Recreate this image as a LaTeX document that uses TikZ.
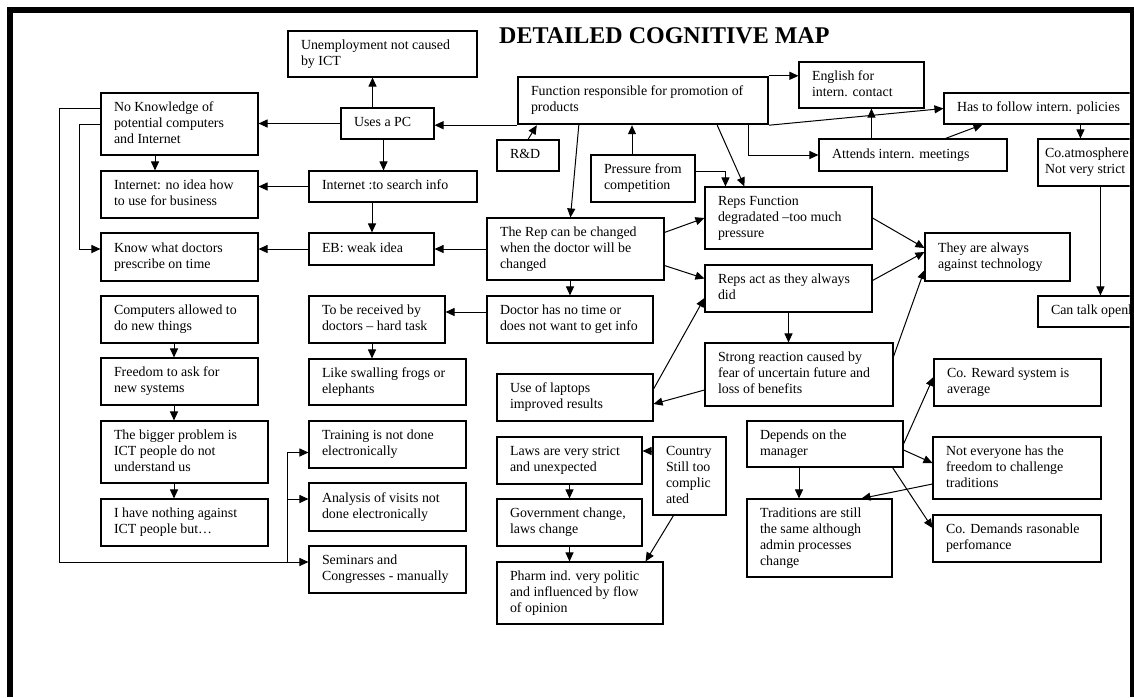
\documentclass[tikz,border=0pt]{standalone}
\usepackage{fontspec}
\setmainfont{Liberation Serif}
\usetikzlibrary{arrows.meta}

% \mapbox[style]{name}{x1}{y1}{x2}{y2}{line\\line}
% box with corners (x1,y1) and (x2,y2); text left aligned with an inset of \mbinset
\newcommand{\mbinset}{13}
\newcommand{\mapbox}[7][]{%
  \pgfmathsetmacro\mbw{#5-#3}%
  \pgfmathsetmacro\mbh{#6-#4}%
  \pgfmathsetmacro\mbt{#5-#3-2*\mbinset}%
  \node[box,minimum width=\mbw pt,minimum height=\mbh pt,#1] (#2)
    at ({(#3+#5)/2},{(#4+#6)/2})
    {\makebox[\mbt pt][l]{\begin{tabular}{@{}l@{}}#7\end{tabular}}};}

\begin{document}
\begin{tikzpicture}[x=1pt,y=-1pt,
  box/.style={draw,rectangle,line width=1.1pt,inner sep=0pt,
    font=\fontsize{13.9}{16}\selectfont},
  keybox/.style={line width=2.4pt},
  link/.style={line width=1pt,-{Triangle[length=9pt,width=8pt]}}]

\useasboundingbox (0,0) rectangle (1134,697);

\begin{scope}
\clip (13,13) rectangle (1129.5,697);

\node[anchor=base west,inner sep=0pt,font=\fontsize{24}{28}\selectfont\bfseries]
  (title) at (499,43) {DETAILED COGNITIVE MAP};

% concepts
\mapbox{unemp}{288}{31}{477}{77}{Unemployment not caused\\by ICT}
\mapbox[keybox]{func}{518}{77}{768}{124}{Function responsible for promotion of\\products}
\mapbox{english}{799}{62}{924}{108}{English for\\intern. contact}
\mapbox{hasto}{944}{93}{1160}{124}{Has to follow intern. policies}
\mapbox{noknow}{101}{93}{258}{155}{No Knowledge of\\potential computers\\and Internet}
\mapbox{usespc}{341}{108}{434}{139}{Uses a PC}
\mapbox{rnd}{497}{140}{559}{171}{R\&D}
\mapbox{pressure}{591}{155}{695}{202}{Pressure from\\competition}
\mapbox{attends}{819}{139}{1007}{171}{Attends intern. meetings}
{\renewcommand{\mbinset}{7}%
\mapbox{coatm}{1038}{139}{1160}{186}{Co.atmosphere\\Not very strict}}
\mapbox{inetnoidea}{101}{171}{258}{218}{Internet: no idea how\\to use for business}
\mapbox{inetsearch}{309}{171}{477}{202}{Internet :to search info}
\mapbox{repsfunc}{705}{187}{872}{249}{Reps Function\\degradated --too much\\pressure}
\mapbox{knowdoc}{101}{233}{258}{281}{Know what doctors\\prescribe on time}
\mapbox{eb}{309}{233}{434}{265}{EB: weak idea}
\mapbox{therep}{487}{218}{664}{280}{The Rep can be changed\\when the doctor will be\\changed}
\mapbox{they}{925}{233}{1070}{281}{They are always\\against technology}
\mapbox{cantalk}{1038}{296}{1160}{327}{Can talk openly}
\mapbox{repsact}{705}{265}{872}{312}{Reps act as they always\\did}
\mapbox{computers}{101}{296}{258}{343}{Computers allowed to\\do new things}
\mapbox{received}{309}{296}{445}{343}{To be received by\\doctors -- hard task}
\mapbox{doctor}{487}{296}{653}{343}{Doctor has no time or\\does not want to get info}
\mapbox{strong}{705}{343}{893}{406}{Strong reaction caused by\\fear of uncertain future and\\loss of benefits}
\mapbox{freedom}{101}{358}{258}{405}{Freedom to ask for\\new systems}
\mapbox{swalling}{309}{359}{466}{405}{Like swalling frogs or\\elephants}
\mapbox{laptops}{497}{374}{653}{421}{Use of laptops\\improved results}
\mapbox{reward}{934}{359}{1101}{406}{Co. Reward system is\\average}
\mapbox{bigger}{101}{421}{268}{483}{The bigger problem is\\ICT people do not\\understand us}
\mapbox{training}{309}{421}{466}{468}{Training is not done\\electronically}
\mapbox{depends}{747}{421}{903}{467}{Depends on the\\manager}
\mapbox{laws}{497}{437}{642}{484}{Laws are very strict\\and unexpected}
\mapbox{country}{653}{437}{726}{515}{Country\\Still too\\complic\\ated}
\mapbox{noteveryone}{933}{437}{1101}{499}{Not everyone has the\\freedom to challenge\\traditions}
\mapbox{analysis}{309}{483}{466}{531}{Analysis of visits not\\done electronically}
\mapbox{nothing}{101}{499}{268}{546}{I have nothing against\\ICT people but\ldots}
\mapbox{government}{497}{499}{642}{546}{Government change,\\laws change}
\mapbox{traditions}{747}{499}{892}{577}{Traditions are still\\the same although\\admin processes\\change}
\mapbox{demands}{933}{515}{1101}{562}{Co. Demands rasonable\\perfomance}
\mapbox{seminars}{309}{546}{466}{593}{Seminars and\\Congresses - manually}
\mapbox{pharm}{497}{562}{663}{624}{Pharm ind. very politic\\and influenced by flow\\of opinion}

% links: left column
\draw[link] ([xshift=-15]usespc.north) -- ([xshift=-15]usespc.north |- unemp.south);
\draw[link] (usespc.west) -- (usespc.west -| noknow.east);
\draw[link] ([xshift=-4]usespc.south) -- ([xshift=-4]usespc.south |- inetsearch.north);
\draw[link] ([xshift=-24.5]noknow.south) -- ([xshift=-24.5]noknow.south |- inetnoidea.north);
\draw[link] (inetsearch.west) -- (inetsearch.west -| inetnoidea.east);
\draw[link] ([xshift=-21]inetsearch.south) -- ([xshift=-21]inetsearch.south |- eb.north);
\draw[link] (eb.west) -- (eb.west -| knowdoc.east);
\draw[link] (noknow.west) -- ++(-21,0) |- ([yshift=8]knowdoc.west);
\draw[link] ([yshift=16]noknow.west) -- ++(-41,0) |- ([yshift=7.5]seminars.west);
\coordinate (fork) at ([xshift=-21,yshift=7.5]seminars.west);
\coordinate (anl) at ([yshift=8]analysis.west);
\draw[link] (fork) |- ([yshift=-8]training.west);
\draw[link] (fork |- anl) -- (anl);
\draw[link] ([xshift=-5.5]computers.south) -- ([xshift=-5.5]computers.south |- freedom.north);
\draw[link] ([xshift=-5.5]freedom.south) -- ([xshift=-5.5]freedom.south |- bigger.north);
\draw[link] ([xshift=-10.5]bigger.south) -- ([xshift=-10.5]bigger.south |- nothing.north);
\draw[link] ([xshift=-5]received.south) -- ([xshift=-5]received.south |- swalling.north);
\draw[link] ([yshift=7.5]doctor.west) -- ([yshift=7.5]doctor.west -| received.east);

% links: promotion function
\draw[link] ([xshift=-5.5]therep.south) -- ([xshift=-5.5]therep.south |- doctor.north);
\draw[link] (therep.west) -- (therep.west -| eb.east);
\draw[link] (func.south west) -- (func.south west -| usespc.east);
\draw[link] (rnd.north) -- ([xshift=20]func.south west);
\draw[link] ([xshift=-11]pressure.north) -- ([xshift=-11]pressure.north |- func.south);
\draw[link] ([yshift=7.5]pressure.east) -| ([xshift=21]repsfunc.north west);
\draw[link] ([xshift=-52]func.south east) -- ([xshift=40]repsfunc.north west);
\draw[link] ([xshift=62]func.south west) -- ([xshift=84]therep.north west);
\draw[link] (func.north east) -- (func.north east -| english.west);
\draw[link] (func.south east) -- (hasto.west);
\draw[link] ([xshift=-21]func.south east) |- (attends.west);
\draw[link] ([xshift=53]attends.north west) -- ([xshift=53]attends.north west |- english.south);
\draw[link] ([xshift=127]attends.north west) -- ([xshift=39]hasto.south west);
\draw[link] ([xshift=137]hasto.south west) -- ([xshift=137]hasto.south west |- coatm.north);
\draw[link] ([xshift=63]coatm.south west) -- ([xshift=63]coatm.south west |- cantalk.north);

% links: reps
\draw[link] ([yshift=-15]therep.north east) -- (repsfunc.west);
\draw[link] ([yshift=15]therep.south east) -- ([yshift=10]repsact.west);
\draw[link] (repsfunc.east) -- ([yshift=9]they.west);
\draw[link] ([yshift=8]repsact.east) -- ([yshift=5]they.west);
\draw[link] ([yshift=-14]strong.north east) -- ([yshift=-13]they.west);
\draw[link] (repsact.south) -- (repsact.south |- strong.north);
\draw[link] ([yshift=8.5]laptops.east) -- ([yshift=-9.5]repsact.west);
\draw[link] ([yshift=-15.5]strong.west) -- ([yshift=-6.5]laptops.east);

% links: laws and management
\draw[link] ([yshift=25]country.west) -- ([yshift=25]country.west -| laws.east);
\draw[link] (laws.south) -- (laws.south |- government.north);
\draw[link] (government.south) -- (government.south |- pharm.north);
\draw[link] ([xshift=21]country.south west) -- ([xshift=-18]pharm.north east);
\draw[link] (depends.east) -- ([yshift=5.5]reward.west);
\draw[link] ([yshift=-6]depends.east) -- ([yshift=5]noteveryone.west);
\draw[link] ([xshift=-26]depends.south) -- ([xshift=-26]depends.south |- traditions.north);
\draw[link] ([xshift=-11]depends.south east) -- ([yshift=10.5]demands.west);
\draw[link] ([yshift=-16]noteveryone.west) -- ([xshift=-31]traditions.north east);
\end{scope}

% page frame
\fill (7,7) rectangle (1134,13);
\fill (7,7) rectangle (13,697);
\fill (1129.5,7) rectangle (1133.5,697);
\end{tikzpicture}
\end{document}
